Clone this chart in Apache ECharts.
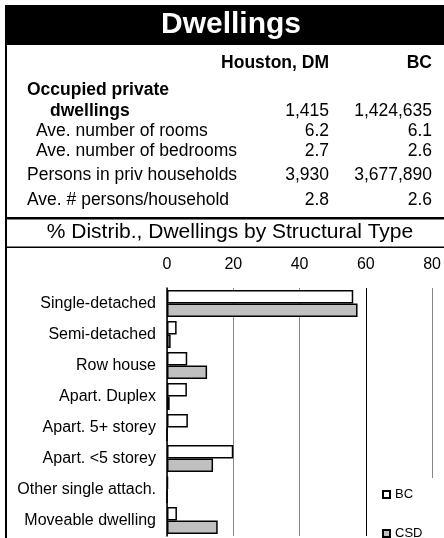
<!DOCTYPE html>
<html>
<head>
<meta charset="utf-8">
<style>
  html, body { margin: 0; padding: 0; background: #fff; }
  #chart { width: 444px; height: 538px; }
</style>
<script src="https://cdn.jsdelivr.net/npm/echarts@6/dist/echarts.min.js"></script>
</head>
<body>
<div id="chart"></div>
<script>
var FONT = '"Liberation Sans", Arial, sans-serif';

// summary table
var tableLabels = ['Occupied private', 'dwellings', 'Ave. number of rooms', 'Ave. number of bedrooms',
    'Persons in priv households', 'Ave. # persons/household'];
var houstonValues = ['', '1,415', '6.2', '2.7', '3,930', '2.8'];
var bcValues = ['', '1,424,635', '6.1', '2.6', '3,677,890', '2.6'];

// % distribution by structural type
var categories = ['Single-detached', 'Semi-detached', 'Row house', 'Apart. Duplex',
    'Apart. 5+ storey', 'Apart. <5 storey', 'Other single attach.', 'Moveable dwelling'];
var bcShares = [56.2, 2.9, 6.1, 6.0, 6.3, 20.0, 0.3, 3.0];
var csdShares = [57.5, 1.1, 12.1, 0.8, 0, 13.9, 0, 15.3];

var myChart = echarts.init(document.getElementById('chart'));

// table rows: x of label, y of row centre, bold or not
var rowX = [27, 50, 36, 36, 27, 27];
var rowY = [90, 111, 131, 151, 175, 200];
var rowBold = [true, true, false, false, false, false];

var graphics = [
    { type: 'rect', shape: { x: 5, y: 5, width: 439, height: 40 }, style: { fill: '#000' } },
    { type: 'rect', shape: { x: 5, y: 5, width: 2, height: 533 }, style: { fill: '#000' } },
    { type: 'rect', shape: { x: 5, y: 217, width: 439, height: 2.5 }, style: { fill: '#000' } },
    { type: 'rect', shape: { x: 5, y: 246.5, width: 439, height: 1.5 }, style: { fill: '#000' } },
    { type: 'text', x: 231, y: 25, style: { text: 'Dwellings', fill: '#fff', font: 'bold 30px ' + FONT,
        textAlign: 'center', textVerticalAlign: 'middle' } },
    { type: 'text', x: 329, y: 63, style: { text: 'Houston, DM', fill: '#000', font: 'bold 17.5px ' + FONT,
        textAlign: 'right', textVerticalAlign: 'middle' } },
    { type: 'text', x: 432, y: 63, style: { text: 'BC', fill: '#000', font: 'bold 17.5px ' + FONT,
        textAlign: 'right', textVerticalAlign: 'middle' } },
    { type: 'text', x: 230, y: 232, style: { text: '% Distrib., Dwellings by Structural Type', fill: '#000',
        font: '21px ' + FONT, textAlign: 'center', textVerticalAlign: 'middle' } },
    // hides the 80 gridline behind the legend
    { type: 'rect', z: 50, shape: { x: 376, y: 478, width: 68, height: 60 }, style: { fill: '#fff' } }
];

tableLabels.forEach(function (lab, i) {
    var f = (rowBold[i] ? 'bold ' : '') + '17.5px ' + FONT;
    graphics.push({ type: 'text', x: rowX[i], y: rowY[i], style: { text: lab, fill: '#000', font: f,
        textAlign: 'left', textVerticalAlign: 'middle' } });
    graphics.push({ type: 'text', x: 329, y: rowY[i], style: { text: houstonValues[i], fill: '#000',
        font: '17.5px ' + FONT, textAlign: 'right', textVerticalAlign: 'middle' } });
    graphics.push({ type: 'text', x: 432, y: rowY[i], style: { text: bcValues[i], fill: '#000',
        font: '17.5px ' + FONT, textAlign: 'right', textVerticalAlign: 'middle' } });
});

function legendItem(name, top) {
    return {
        left: 382,
        top: top,
        z: 60,
        padding: 0,
        itemWidth: 7,
        itemHeight: 7,
        icon: 'rect',
        textStyle: { fontSize: 13, color: '#000', fontFamily: FONT },
        data: [name]
    };
}

option = {
    backgroundColor: '#fff',
    animation: false,
    textStyle: { fontFamily: FONT },
    graphic: graphics,
    legend: [legendItem('BC', 488), legendItem('CSD', 527)],
    grid: {
        left: 167,
        top: 288,
        width: 267,
        height: 248
    },
    xAxis: {
        type: 'value',
        position: 'top',
        min: 0,
        max: 80,
        interval: 20,
        axisLine: { show: false },
        axisTick: { show: false },
        axisLabel: { fontSize: 16, color: '#000', margin: 15, fontFamily: FONT },
        splitLine: { lineStyle: { color: ['#888', '#888', '#888', '#000', '#888'], width: 1 } }
    },
    yAxis: {
        type: 'category',
        inverse: true,
        data: categories,
        axisLine: { lineStyle: { color: '#000', width: 1.5 } },
        axisTick: { length: 5, lineStyle: { color: '#000' } },
        axisLabel: { fontSize: 16, color: '#000', margin: 11, fontFamily: FONT }
    },
    series: [
        {
            name: 'BC',
            type: 'bar',
            data: bcShares,
            barWidth: 13.5,
            barGap: '0%',
            itemStyle: { color: '#fff', borderColor: '#000', borderWidth: 1.5 }
        },
        {
            name: 'CSD',
            type: 'bar',
            data: csdShares,
            barWidth: 13.5,
            barGap: '0%',
            itemStyle: { color: '#c0c0c0', borderColor: '#000', borderWidth: 1.5 }
        }
    ]
};

myChart.setOption(option);
</script>
</body>
</html>
